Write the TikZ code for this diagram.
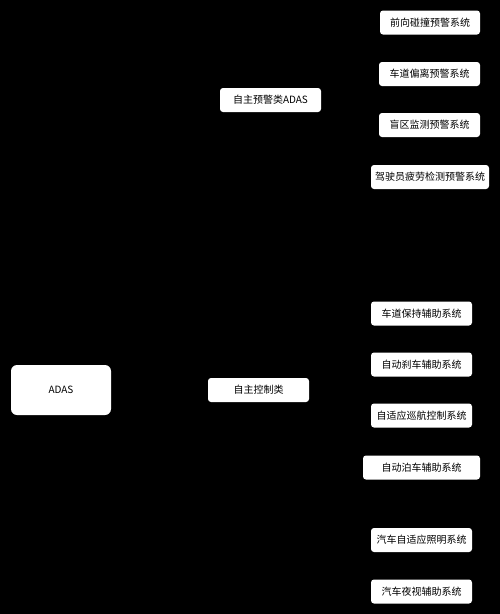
\documentclass[tikz,border=0pt]{standalone}
\usepackage{fontspec}
\setmainfont{Noto Sans CJK SC}
\begin{document}
\begin{tikzpicture}[x = 1pt, y = -1pt, color = {black},
    kasten/.style = {fill = white, rounded corners = 3pt, inner sep = 0pt,
      minimum width = 101pt, minimum height = 24pt, text = black,
      font = \fontsize{10}{12}\selectfont}]
    \fill[black] (0,0) rectangle (500,614);
    \node[kasten, minimum width = 100pt, minimum height = 50pt, rounded corners = 6pt] (adas) at (61,390) {ADAS};
    \node[kasten] (yujing) at (270.5,100) {自主预警类ADAS};
    \node[kasten] (kongzhi) at (258.5,390) {自主控制类};
    \node[kasten, minimum width = 100pt] (qianxiang) at (430,22.5) {前向碰撞预警系统};
    \node[kasten] (pianli) at (429.5,74) {车道偏离预警系统};
    \node[kasten] (mangqu) at (429.5,125) {盲区监测预警系统};
    \node[kasten, minimum width = 118pt] (pilao) at (430,177) {驾驶员疲劳检测预警系统};
    \node[kasten] (baochi) at (421.5,313.5) {车道保持辅助系统};
    \node[kasten] (shache) at (421.5,364.5) {自动刹车辅助系统};
    \node[kasten] (xunhang) at (421.5,415.5) {自适应巡航控制系统};
    \node[kasten, minimum width = 117pt] (bochi) at (421.5,467.5) {自动泊车辅助系统};
    \node[kasten] (zhaoming) at (421.5,540) {汽车自适应照明系统};
    \node[kasten] (yeshi) at (421.5,591.5) {汽车夜视辅助系统};
\end{tikzpicture}
\end{document}
